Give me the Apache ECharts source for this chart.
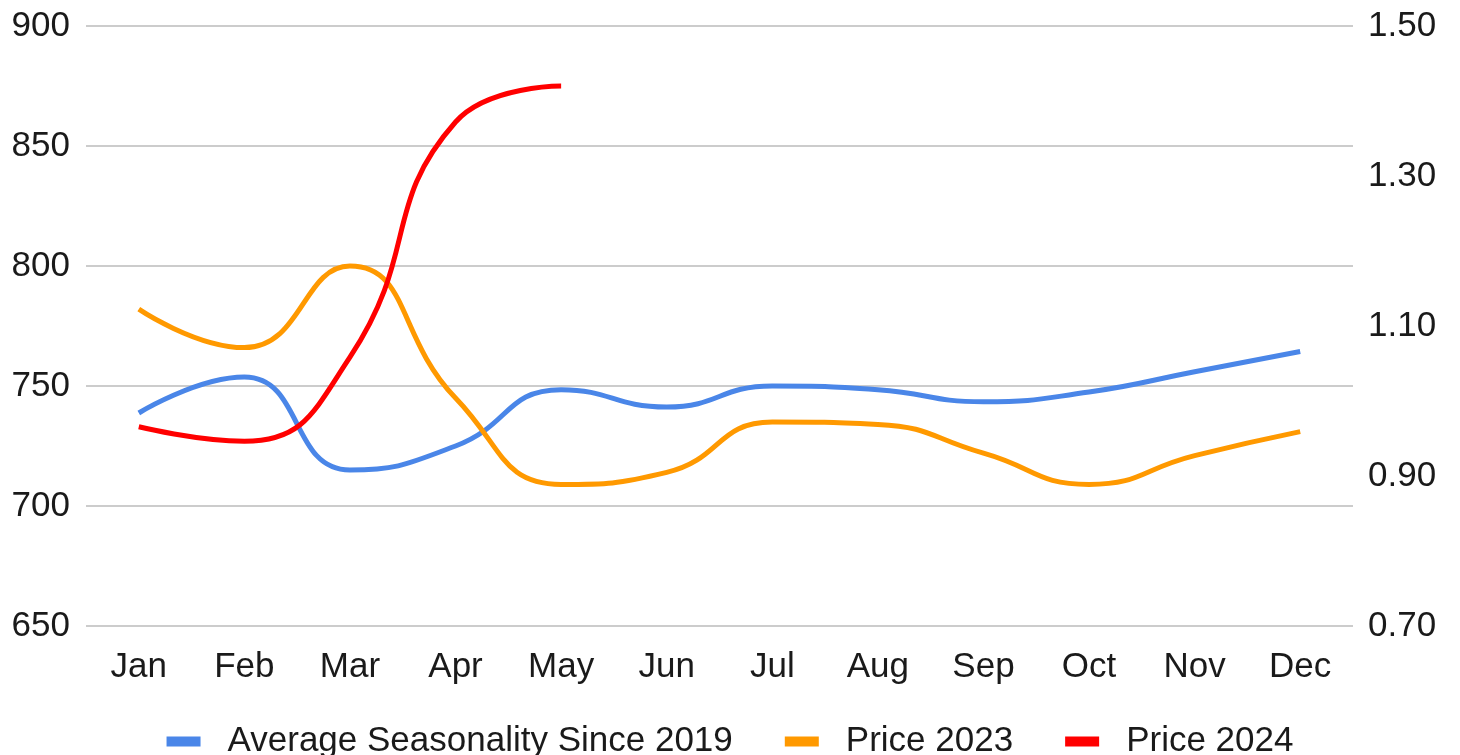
<!DOCTYPE html>
<html>
<head>
<meta charset="utf-8">
<script src="https://cdn.jsdelivr.net/npm/echarts@6/dist/echarts.min.js"></script>
<style>
html,body{margin:0;padding:0;background:#fff;}
#chart{width:1460px;height:755px;}
</style>
</head>
<body>
<div id="chart"></div>
<script>
const categories = ['Jan','Feb','Mar','Apr','May','Jun','Jul','Aug','Sep','Oct','Nov','Dec'];
const avgSeasonality = [0.984, 1.032, 0.908, 0.940, 1.015, 0.992, 1.020, 1.015, 0.999, 1.012, 1.039, 1.066];
const price2023 = [782, 766, 800, 745, 709, 714, 735, 734, 722, 709, 721, 731];
const price2024 = [733, 727, 762, 860, 875];
const leftTicks = {min: 650, max: 900, interval: 50};
const rightTicks = {min: 0.7, max: 1.5, interval: 0.2};

const font = 'Liberation Sans, Arial, sans-serif';
const chart = echarts.init(document.getElementById('chart'));
chart.setOption({
  animation: false,
  grid: {left: 86, right: 107, top: 26, bottom: 129},
  legend: {
    top: 719,
    left: 'center',
    itemWidth: 34,
    itemHeight: 10,
    itemGap: 52,
    icon: 'rect',
    textStyle: {fontSize: 35, color: '#1a1a1a', fontFamily: font, padding: [0, 0, 0, 22]},
    data: ['Average Seasonality Since 2019', 'Price 2023', 'Price 2024']
  },
  xAxis: {
    type: 'category',
    data: categories,
    boundaryGap: true,
    axisLine: {show: false},
    axisTick: {show: false},
    axisLabel: {fontSize: 35, color: '#1a1a1a', fontFamily: font, margin: 24}
  },
  yAxis: [
    {
      type: 'value',
      min: leftTicks.min, max: leftTicks.max, interval: leftTicks.interval,
      axisLine: {show: false}, axisTick: {show: false},
      axisLabel: {fontSize: 35, color: '#1a1a1a', fontFamily: font, margin: 16},
      splitLine: {lineStyle: {color: '#cccccc', width: 2}}
    },
    {
      type: 'value',
      min: rightTicks.min, max: rightTicks.max, interval: rightTicks.interval,
      position: 'right',
      axisLine: {show: false}, axisTick: {show: false},
      axisLabel: {fontSize: 35, color: '#1a1a1a', fontFamily: font, margin: 15,
        formatter: v => v.toFixed(2)},
      splitLine: {show: false}
    }
  ],
  series: [
    {
      name: 'Average Seasonality Since 2019', type: 'line', yAxisIndex: 1,
      data: avgSeasonality, smooth: 0.5, symbol: 'none',
      lineStyle: {color: '#4a86e8', width: 5}, itemStyle: {color: '#4a86e8'}
    },
    {
      name: 'Price 2023', type: 'line', yAxisIndex: 0,
      data: price2023, smooth: 0.5, symbol: 'none',
      lineStyle: {color: '#ff9900', width: 5}, itemStyle: {color: '#ff9900'}
    },
    {
      name: 'Price 2024', type: 'line', yAxisIndex: 0,
      data: price2024, smooth: 0.5, symbol: 'none',
      lineStyle: {color: '#ff0000', width: 5}, itemStyle: {color: '#ff0000'}
    }
  ]
});
</script>
</body>
</html>
